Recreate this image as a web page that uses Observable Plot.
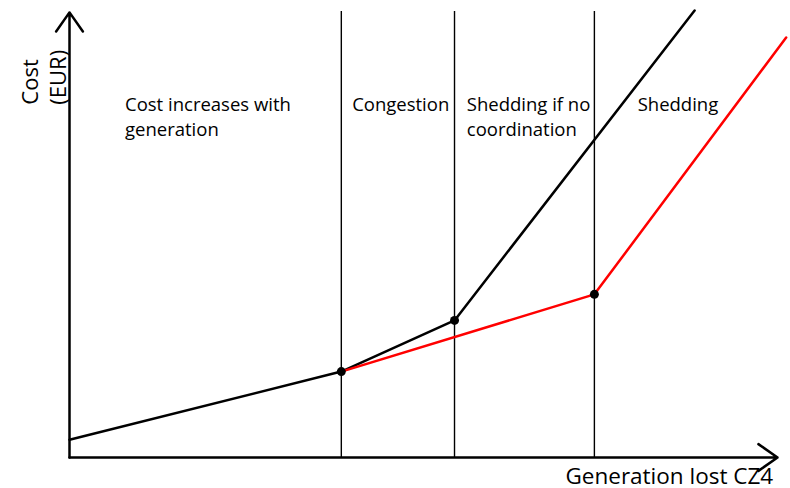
<!DOCTYPE html>
<html>
<head>
<meta charset="utf-8">
<script src="https://cdn.jsdelivr.net/npm/d3@7"></script>
<script src="https://cdn.jsdelivr.net/npm/@observablehq/plot@0.6"></script>
<style>
  html, body { margin: 0; padding: 0; background: #fff; }
  svg { display: block; }
</style>
</head>
<body>
<div id="chart"></div>
<script>
// Region boundaries on the generation-lost axis (abstract units 0-100)
const boundaries = [37.7, 53.4, 72.8];
// Cost without coordination (black)
const uncoordX = [0, 37.7, 53.4, 86.7];
const uncoordY = [3.9, 18.8, 30.0, 97.8];
// Cost with coordination (red)
const coordX = [37.7, 72.8, 99.4];
const coordY = [18.8, 35.7, 91.9];
// Kink points
const kinkX = [37.7, 53.4, 72.8];
const kinkY = [18.8, 30.0, 35.7];
// Region labels
const regionLabels = ["Cost increases with\ngeneration", "Congestion", "Shedding if no\ncoordination", "Shedding"];
const regionLabelX = [7.7, 39.2, 55.1, 78.8];
const regionLabelY = 79.8;

const uncoord = uncoordX.map((x, i) => ({x, y: uncoordY[i]}));
const coord = coordX.map((x, i) => ({x, y: coordY[i]}));
const kinks = kinkX.map((x, i) => ({x, y: kinkY[i]}));
const labels = regionLabels.map((t, i) => ({t, x: regionLabelX[i], y: regionLabelY}));

const font = "'Open Sans', sans-serif";

const chart = Plot.plot({
  width: 790,
  height: 488,
  marginLeft: 69,
  marginRight: 0,
  marginTop: 0,
  marginBottom: 31,
  x: {domain: [0, 100], axis: null},
  y: {domain: [0, 100], axis: null},
  style: {fontFamily: font, background: "#fff"},
  marks: [
    Plot.ruleX(boundaries, {x: d => d, y1: 0, y2: 97.6, stroke: "#000", strokeWidth: 1.4}),
    Plot.line(uncoord, {x: "x", y: "y", stroke: "#000", strokeWidth: 2.5}),
    Plot.line(coord, {x: "x", y: "y", stroke: "#ff0000", strokeWidth: 2.5}),
    Plot.arrow([{x1: 0, y1: 0, x2: 0, y2: 97.4}], {x1: "x1", y1: "y1", x2: "x2", y2: "y2", stroke: "#000", strokeWidth: 2.5, headLength: 14, headAngle: 70, insetEnd: 0}),
    Plot.arrow([{x1: 0, y1: 0, x2: 98.2, y2: 0}], {x1: "x1", y1: "y1", x2: "x2", y2: "y2", stroke: "#000", strokeWidth: 2.5, headLength: 14, headAngle: 70, insetEnd: 0}),
    Plot.dot(kinks, {x: "x", y: "y", r: 4.5, fill: "#000"}),
    Plot.text(labels, {x: "x", y: "y", text: "t", textAnchor: "start", lineAnchor: "top", fontSize: 18.5, lineHeight: 1.35, fill: "#000"}),
    Plot.text(["Cost"], {x: -5.4, y: 77.2, rotate: -90, textAnchor: "start", fontSize: 22, fill: "#000"}),
    Plot.text(["(EUR)"], {x: -1.5, y: 77.2, rotate: -90, textAnchor: "start", fontSize: 22, fill: "#000"}),
    Plot.text(["Generation lost CZ4"], {x: 97.6, y: -4.3, textAnchor: "end", fontSize: 22.5, fill: "#000"})
  ]
});
document.getElementById("chart").appendChild(chart);
</script>
</body>
</html>
